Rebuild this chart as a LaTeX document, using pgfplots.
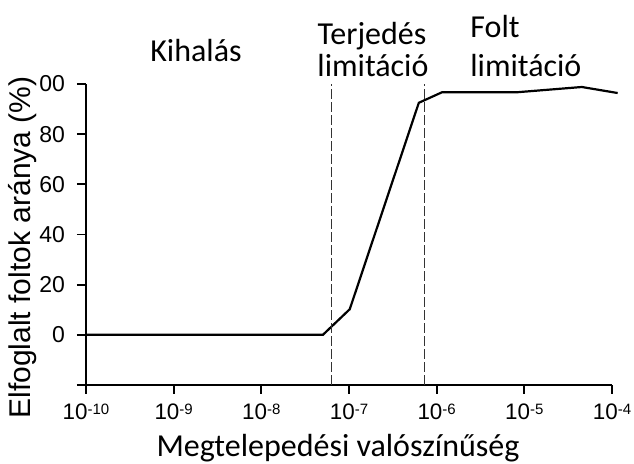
\documentclass[border=0pt]{standalone}
\usepackage{pgfplots}
\pgfplotsset{compat=1.18}
\usepackage{fontspec}
\setmainfont{Liberation Sans}
\newfontfamily\calibri{Carlito}
\newcommand{\tp}[1]{\mbox{10\raisebox{2.7pt}{\fontsize{7.5}{8}\selectfont -#1}}}
\begin{document}
\begin{tikzpicture}
\useasboundingbox (-43pt,-39.5pt) rectangle (274pt,192.5pt);
\begin{axis}[
  name=ax, scale only axis, width=263pt, height=150.5pt,
  at={(0pt,0pt)}, anchor=south west,
  xmode=log, xmin=1e-10, xmax=1e-4, ymin=-20, ymax=100,
  xminorticks=false,
  axis x line*=bottom, axis y line*=left,
  axis line style={line width=0.9pt, -},
  major tick style={line width=0.9pt, black},
  tick align=outside, major tick length=4.5pt,
  xtick={1e-10,1e-9,1e-8,1e-7,1e-6,1e-5,1e-4},
  xticklabels={\tp{10},\tp{9},\tp{8},\tp{7},\tp{6},\tp{5},\tp{4}},
  ytick={-20,0,20,40,60,80,100},
  yticklabels={{},0,20,40,60,80,00},
  tick label style={font=\fontsize{11.5}{13}\selectfont},
  yticklabel style={xshift=-2.5pt},
  xticklabel style={font=\fontsize{11.2}{13}\selectfont, yshift=-1.5pt},
  /pgf/number format/assume math mode=true,
  clip=false,
]
\addplot[black, line width=1.1pt] coordinates {
  (1e-10,0) (5.04e-8,0) (1.02e-7,10.2) (6.26e-7,92.5) (1.15e-6,96.7)
  (8.2e-6,96.7) (4.53e-5,98.8) (1.16e-4,96.4)
};
\addplot[black!80, line width=0.5pt, dash pattern=on 5pt off 1.5pt] coordinates {(6.38e-8,-20) (6.38e-8,100)};
\addplot[black!80, line width=0.5pt, dash pattern=on 5pt off 1.5pt] coordinates {(7.33e-7,-20) (7.33e-7,100)};
\end{axis}
\node[rotate=90, anchor=base, font=\fontsize{15}{17}\selectfont, inner sep=0pt] at (-27.5pt,68.75pt) {Elfoglalt foltok aránya (\%)};
\node[anchor=base, font=\calibri\fontsize{16}{18}\selectfont, inner sep=0pt] at (126pt,-36pt) {Megtelepedési valószínűség};
\node[anchor=base, font=\calibri\fontsize{16}{18}\selectfont, inner sep=0pt] at (55pt,161.5pt) {Kihalás};
\node[anchor=base, font=\calibri\fontsize{16}{18}\selectfont, inner sep=0pt] at (143pt,170pt) {Terjedés};
\node[anchor=base, font=\calibri\fontsize{16}{18}\selectfont, inner sep=0pt] at (143.5pt,154pt) {limitáció};
\node[anchor=base west, font=\calibri\fontsize{16}{18}\selectfont, inner sep=0pt] at (192pt,173.5pt) {Folt};
\node[anchor=base west, font=\calibri\fontsize{16}{18}\selectfont, inner sep=0pt] at (192pt,154pt) {limitáció};
\end{tikzpicture}
\end{document}
